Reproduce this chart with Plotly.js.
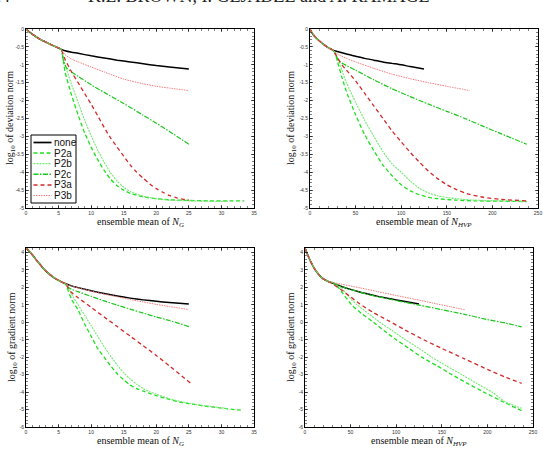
<!DOCTYPE html>
<html>
<head>
<meta charset="utf-8">
<script src="https://cdn.plot.ly/plotly-3.0.1.min.js"></script>
<style>
  html, body { margin: 0; padding: 0; background: #fff; }
  #chart { width: 543px; height: 450px; }
</style>
</head>
<body>
<div id="chart"></div>
<script>
// ---- series names (legend order) ----
const seriesNames = ['none', 'P2a', 'P2b', 'P2c', 'P3a', 'P3b'];

// ---- tick values ----
const ngTicks   = [0, 5, 10, 15, 20, 25, 30, 35];
const hvpTicks  = [0, 50, 100, 150, 200, 250];
const devTicks  = [0, -0.5, -1, -1.5, -2, -2.5, -3, -3.5, -4, -4.5, -5];
const gradTicks = [4, 3, 2, 1, 0, -1, -2, -3, -4, -5, -6];

// ===== Panel 1: log10 deviation norm vs ensemble mean of N_G =====
const devNG_commonX = [0, 0.5, 1, 1.5, 2, 2.5, 3, 3.5, 4, 4.5, 5, 5.4];
const devNG_commonY = [0, -0.08, -0.15, -0.21, -0.27, -0.32, -0.36, -0.41, -0.45, -0.49, -0.53, -0.57];
const devNG_none_x = [6, 7, 8, 10, 12, 14, 16, 18, 20, 22, 25];
const devNG_none_y = [-0.61, -0.65, -0.68, -0.75, -0.81, -0.87, -0.92, -0.97, -1.02, -1.06, -1.12];
const devNG_P2a_x = [6, 7, 8, 9, 10, 11, 12, 13, 14, 15, 16, 18, 20, 22, 25, 28, 31, 33.5];
const devNG_P2a_y = [-1.2, -1.85, -2.4, -2.9, -3.3, -3.65, -3.95, -4.2, -4.38, -4.5, -4.59, -4.69, -4.74, -4.77, -4.79, -4.8, -4.8, -4.8];
const devNG_P2b_x = [6, 7, 8, 9, 10, 11, 12, 13, 14, 15, 16, 18, 20, 22, 25, 28, 31];
const devNG_P2b_y = [-1.0, -1.55, -2.05, -2.55, -2.98, -3.38, -3.72, -4.02, -4.25, -4.42, -4.54, -4.67, -4.74, -4.78, -4.8, -4.81, -4.82];
const devNG_P2c_x = [5.7, 6.2, 7, 8, 10, 12, 15, 18, 20, 22, 25];
const devNG_P2c_y = [-0.85, -1.08, -1.2, -1.32, -1.56, -1.77, -2.08, -2.41, -2.63, -2.86, -3.22];
const devNG_P3a_x = [6, 7, 8, 9, 10, 11, 12, 13, 14, 15, 16, 17, 18, 19, 20, 21, 22, 23, 24, 25];
const devNG_P3a_y = [-0.85, -1.2, -1.5, -1.8, -2.1, -2.42, -2.75, -3.05, -3.3, -3.55, -3.8, -4.0, -4.17, -4.33, -4.46, -4.56, -4.65, -4.71, -4.75, -4.78];
const devNG_P3b_x = [6, 7, 8, 10, 12, 15, 18, 20, 22, 25];
const devNG_P3b_y = [-0.72, -0.84, -0.92, -1.06, -1.2, -1.4, -1.53, -1.6, -1.65, -1.72];

// ===== Panel 2: log10 deviation norm vs ensemble mean of N_HVP =====
const devHVP_commonX = [0, 2, 5, 8, 12, 16, 20, 25];
const devHVP_commonY = [0, -0.1, -0.2, -0.28, -0.37, -0.45, -0.52, -0.59];
const devHVP_none_x = [30, 40, 50, 60, 70, 80, 90, 100, 110, 125];
const devHVP_none_y = [-0.63, -0.7, -0.76, -0.82, -0.87, -0.92, -0.96, -1.0, -1.05, -1.12];
const devHVP_P2a_x = [28, 30, 35, 40, 50, 60, 70, 80, 90, 100, 110, 120, 130, 140, 160, 180, 210, 237.6];
const devHVP_P2a_y = [-0.7, -0.9, -1.35, -1.75, -2.4, -2.95, -3.4, -3.8, -4.1, -4.35, -4.52, -4.63, -4.7, -4.74, -4.78, -4.8, -4.81, -4.82];
const devHVP_P2b_x = [28, 30, 35, 40, 50, 60, 70, 80, 90, 100, 110, 120, 130, 140, 160, 180, 210, 237.6];
const devHVP_P2b_y = [-0.68, -0.82, -1.15, -1.5, -2.05, -2.55, -3.0, -3.42, -3.77, -4.0, -4.25, -4.45, -4.58, -4.66, -4.74, -4.78, -4.8, -4.82];
const devHVP_P2c_x = [28, 32, 40, 50, 70, 90, 110, 130, 150, 170, 190, 210, 237.6];
const devHVP_P2c_y = [-0.72, -0.9, -1.02, -1.15, -1.42, -1.67, -1.89, -2.1, -2.3, -2.5, -2.72, -2.93, -3.22];
const devHVP_P3a_x = [30, 35, 40, 50, 60, 70, 80, 90, 100, 110, 120, 130, 140, 150, 160, 175, 190, 210, 237.6];
const devHVP_P3a_y = [-0.8, -1.0, -1.15, -1.45, -1.8, -2.15, -2.5, -2.85, -3.15, -3.45, -3.72, -3.97, -4.18, -4.35, -4.48, -4.62, -4.7, -4.76, -4.8];
const devHVP_P3b_x = [30, 40, 50, 70, 90, 110, 130, 150, 175];
const devHVP_P3b_y = [-0.7, -0.82, -0.92, -1.1, -1.26, -1.39, -1.5, -1.6, -1.72];

// ===== Panel 3: log10 gradient norm vs ensemble mean of N_G =====
const gradNG_commonX = [0, 0.5, 1, 1.5, 2, 2.5, 3, 3.5, 4, 4.5, 5, 5.5, 6];
const gradNG_commonY = [4.25, 4.05, 3.85, 3.6, 3.38, 3.15, 2.95, 2.78, 2.63, 2.5, 2.4, 2.3, 2.22];
const gradNG_none_x = [7, 8, 10, 12, 14, 16, 18, 20, 22, 25];
const gradNG_none_y = [2.08, 1.98, 1.8, 1.64, 1.5, 1.38, 1.28, 1.2, 1.13, 1.05];
const gradNG_P2a_x = [7, 8, 9, 10, 11, 12, 13, 14, 15, 16, 17, 18, 19, 20, 22, 24, 26, 28, 30, 32, 33.3];
const gradNG_P2a_y = [1.3, 0.7, -0.1, -0.8, -1.5, -2.0, -2.5, -2.95, -3.3, -3.6, -3.8, -3.95, -4.08, -4.2, -4.42, -4.6, -4.72, -4.83, -4.92, -5.0, -5.05];
const gradNG_P2b_x = [7, 8, 9, 10, 11, 12, 13, 14, 15, 16, 17, 18, 19, 20, 22, 24, 26, 28, 30, 31];
const gradNG_P2b_y = [1.6, 1.0, 0.4, -0.2, -0.8, -1.4, -1.95, -2.45, -2.9, -3.25, -3.55, -3.8, -3.98, -4.12, -4.38, -4.56, -4.7, -4.8, -4.9, -4.95];
const gradNG_P2c_x = [6.5, 7, 8, 10, 12, 14, 16, 18, 20, 22, 25];
const gradNG_P2c_y = [2.0, 1.88, 1.75, 1.48, 1.22, 0.98, 0.75, 0.52, 0.3, 0.1, -0.25];
const gradNG_P3a_x = [6.5, 7, 8, 10, 12, 14, 16, 18, 20, 22, 25.3];
const gradNG_P3a_y = [1.95, 1.7, 1.4, 0.85, 0.3, -0.25, -0.8, -1.35, -1.9, -2.5, -3.5];
const gradNG_P3b_x = [7, 8, 10, 12, 14, 16, 18, 20, 22, 25];
const gradNG_P3b_y = [2.08, 1.97, 1.78, 1.61, 1.46, 1.3, 1.16, 1.02, 0.9, 0.72];

// ===== Panel 4: log10 gradient norm vs ensemble mean of N_HVP =====
const gradHVP_commonX = [0, 3, 6, 10, 14, 18, 22, 26];
const gradHVP_commonY = [4.25, 3.85, 3.5, 3.1, 2.8, 2.57, 2.42, 2.32];
const gradHVP_none_x = [30, 40, 50, 60, 70, 80, 90, 100, 110, 125];
const gradHVP_none_y = [2.25, 2.05, 1.88, 1.73, 1.6, 1.48, 1.38, 1.28, 1.18, 1.04];
const gradHVP_P2a_x = [30, 35, 40, 51, 62, 75, 87, 100, 114, 128, 145, 161, 178, 196, 215, 237.6];
const gradHVP_P2a_y = [2.28, 2.1, 1.75, 1.0, 0.5, 0.0, -0.5, -1.0, -1.5, -2.0, -2.5, -3.0, -3.5, -4.0, -4.5, -5.07];
const gradHVP_P2b_x = [30, 35, 40, 50, 57, 70, 82, 96, 110, 125, 139, 155, 172, 188, 205, 221, 237.6];
const gradHVP_P2b_y = [2.28, 2.15, 1.95, 1.35, 1.0, 0.48, 0.0, -0.5, -1.0, -1.5, -2.0, -2.5, -3.0, -3.5, -4.0, -4.6, -4.93];
const gradHVP_P2c_x = [30, 40, 50, 60, 70, 80, 100, 125, 150, 175, 200, 220, 237.6];
const gradHVP_P2c_y = [2.25, 2.05, 1.87, 1.72, 1.58, 1.46, 1.24, 0.98, 0.72, 0.45, 0.15, -0.05, -0.27];
const gradHVP_P3a_x = [30, 40, 50, 60, 75, 90, 110, 130, 150, 175, 200, 220, 237.6];
const gradHVP_P3a_y = [2.2, 1.85, 1.45, 1.05, 0.55, 0.13, -0.45, -1.0, -1.5, -2.1, -2.7, -3.15, -3.5];
const gradHVP_P3b_x = [30, 40, 60, 80, 100, 120, 140, 160, 175];
const gradHVP_P3b_y = [2.28, 2.18, 1.97, 1.75, 1.53, 1.32, 1.1, 0.88, 0.72];

// ---- line styles per series ----
const lineStyles = {
  none: { color: '#000000', width: 1.5, dash: 'solid' },
  P2a:  { color: '#1fe01f', width: 1.3, dash: '4px,2.5px' },
  P2b:  { color: '#74e874', width: 1.1, dash: '2px,1px' },
  P2c:  { color: '#19c819', width: 1.2, dash: '5px,1.5px,1.5px,1.5px' },
  P3a:  { color: '#d42a2a', width: 1.3, dash: '4px,3px' },
  P3b:  { color: '#f47c7c', width: 1.0, dash: '1.5px,1px' }
};

// gather the per-panel arrays
const panels = [
  { xa: 'x',  ya: 'y',  cx: devNG_commonX,   cy: devNG_commonY,
    s: { none: [devNG_none_x, devNG_none_y], P2a: [devNG_P2a_x, devNG_P2a_y], P2b: [devNG_P2b_x, devNG_P2b_y],
         P2c: [devNG_P2c_x, devNG_P2c_y], P3a: [devNG_P3a_x, devNG_P3a_y], P3b: [devNG_P3b_x, devNG_P3b_y] } },
  { xa: 'x2', ya: 'y2', cx: devHVP_commonX,  cy: devHVP_commonY,
    s: { none: [devHVP_none_x, devHVP_none_y], P2a: [devHVP_P2a_x, devHVP_P2a_y], P2b: [devHVP_P2b_x, devHVP_P2b_y],
         P2c: [devHVP_P2c_x, devHVP_P2c_y], P3a: [devHVP_P3a_x, devHVP_P3a_y], P3b: [devHVP_P3b_x, devHVP_P3b_y] } },
  { xa: 'x3', ya: 'y3', cx: gradNG_commonX,  cy: gradNG_commonY,
    s: { none: [gradNG_none_x, gradNG_none_y], P2a: [gradNG_P2a_x, gradNG_P2a_y], P2b: [gradNG_P2b_x, gradNG_P2b_y],
         P2c: [gradNG_P2c_x, gradNG_P2c_y], P3a: [gradNG_P3a_x, gradNG_P3a_y], P3b: [gradNG_P3b_x, gradNG_P3b_y] } },
  { xa: 'x4', ya: 'y4', cx: gradHVP_commonX, cy: gradHVP_commonY,
    s: { none: [gradHVP_none_x, gradHVP_none_y], P2a: [gradHVP_P2a_x, gradHVP_P2a_y], P2b: [gradHVP_P2b_x, gradHVP_P2b_y],
         P2c: [gradHVP_P2c_x, gradHVP_P2c_y], P3a: [gradHVP_P3a_x, gradHVP_P3a_y], P3b: [gradHVP_P3b_x, gradHVP_P3b_y] } }
];

const traces = [];
panels.forEach(p => {
  seriesNames.forEach(name => {
    const st = lineStyles[name];
    traces.push({
      type: 'scatter', mode: 'lines', name: name, showlegend: false,
      x: p.cx.concat(p.s[name][0]),
      y: p.cy.concat(p.s[name][1]),
      xaxis: p.xa, yaxis: p.ya,
      line: { color: st.color, width: st.width, dash: st.dash, shape: 'spline', smoothing: 0.6 },
      hoverinfo: 'skip'
    });
  });
});

// ---- layout helpers (pixel -> paper) ----
const W = 543, H = 450;
const px = v => v / W;
const py = v => 1 - v / H;

const tickFont = { family: 'Liberation Sans, Arial, sans-serif', size: 5, color: '#333' };
function axisDef(domain, anchor, range, vals, minorStep) {
  return {
    domain: domain, anchor: anchor, range: range,
    tickmode: 'array', tickvals: vals, ticktext: vals.map(v => String(v)),
    ticks: 'inside', ticklen: 3, tickwidth: 0.6, tickcolor: '#000',
    minor: { ticks: 'inside', ticklen: 1.6, tickwidth: 0.5, tickcolor: '#000', tickmode: 'linear', tick0: 0, dtick: minorStep },
    showline: true, linecolor: '#000', linewidth: 1, mirror: 'ticks',
    showgrid: false, zeroline: false, tickfont: tickFont, fixedrange: true
  };
}

const xTop = [px(26), px(254)], xTopR = [px(310), px(538)];
const xBotR = [px(305), px(533)];
const yTop = [py(208), py(29)], yBot = [py(427), py(248)];

const serif = 'Liberation Serif, Times New Roman, serif';
const titleFont = { family: serif, size: 10, color: '#111' };
const headerFont = { family: serif, size: 18, color: '#222' };

function xTitle(dom, yPix, sub) {
  return { xref: 'paper', yref: 'paper', x: (dom[0] + dom[1]) / 2, y: py(yPix), xanchor: 'center', yanchor: 'middle',
    showarrow: false, text: 'ensemble mean of <i>N</i><sub><i>' + sub + '</i></sub>', font: titleFont };
}
function yTitle(xPix, yPix, what) {
  return { xref: 'paper', yref: 'paper', x: px(xPix), y: py(yPix), xanchor: 'center', yanchor: 'middle',
    textangle: -90, showarrow: false, text: 'log<sub>10</sub> of ' + what + ' norm', font: titleFont };
}

const annotations = [
  // running page header (page number and authors)
  { xref: 'paper', yref: 'paper', x: px(12), y: py(8.5), xanchor: 'right', yanchor: 'bottom', showarrow: false,
    text: '24', font: headerFont },
  { xref: 'paper', yref: 'paper', x: px(258), y: py(8.5), xanchor: 'center', yanchor: 'bottom', showarrow: false,
    text: 'K.L. BROWN, I. GEJADZE and A. RAMAGE', font: headerFont },
  xTitle(xTop, 222, 'G'), xTitle(xTopR, 222, 'HVP'),
  xTitle(xTop, 441, 'G'), xTitle(xBotR, 441, 'HVP'),
  yTitle(10, 118, 'deviation'), yTitle(291, 118, 'deviation'),
  yTitle(12, 337, 'gradient'), yTitle(291, 337, 'gradient')
];

// legend box drawn in the first panel
const shapes = [
  { type: 'rect', xref: 'paper', yref: 'paper', x0: px(31), x1: px(76), y0: py(203), y1: py(135),
    line: { color: '#000', width: 1 }, fillcolor: '#fff', layer: 'above' }
];
seriesNames.forEach((name, i) => {
  const st = lineStyles[name];
  const yy = 142.5 + i * 10.6;
  shapes.push({ type: 'line', xref: 'paper', yref: 'paper', x0: px(33.5), x1: px(51.5), y0: py(yy), y1: py(yy),
    line: { color: st.color, width: st.width + 0.2, dash: st.dash }, layer: 'above' });
  annotations.push({ xref: 'paper', yref: 'paper', x: px(51.5), y: py(yy), xanchor: 'left', yanchor: 'middle',
    showarrow: false, text: name, font: { family: 'Liberation Sans, Arial, sans-serif', size: 10, color: '#111' } });
});

const layout = {
  width: W, height: H, margin: { l: 0, r: 0, t: 0, b: 0 },
  paper_bgcolor: '#fff', plot_bgcolor: '#fff', showlegend: false,
  xaxis:  axisDef(xTop,  'y',  [0, 35],  ngTicks, 1),
  yaxis:  axisDef(yTop,  'x',  [-5, 0],  devTicks, 0.1),
  xaxis2: axisDef(xTopR, 'y2', [0, 250], hvpTicks, 10),
  yaxis2: axisDef(yTop,  'x2', [-5, 0],  devTicks, 0.1),
  xaxis3: axisDef(xTop,  'y3', [0, 35],  ngTicks, 1),
  yaxis3: axisDef(yBot,  'x3', [-6, 4.25], gradTicks, 0.2),
  xaxis4: axisDef(xBotR, 'y4', [0, 250], hvpTicks, 10),
  yaxis4: axisDef(yBot,  'x4', [-6, 4.25], gradTicks, 0.2),
  annotations: annotations, shapes: shapes
};

Plotly.newPlot('chart', traces, layout, { staticPlot: true, displayModeBar: false });
</script>
</body>
</html>
